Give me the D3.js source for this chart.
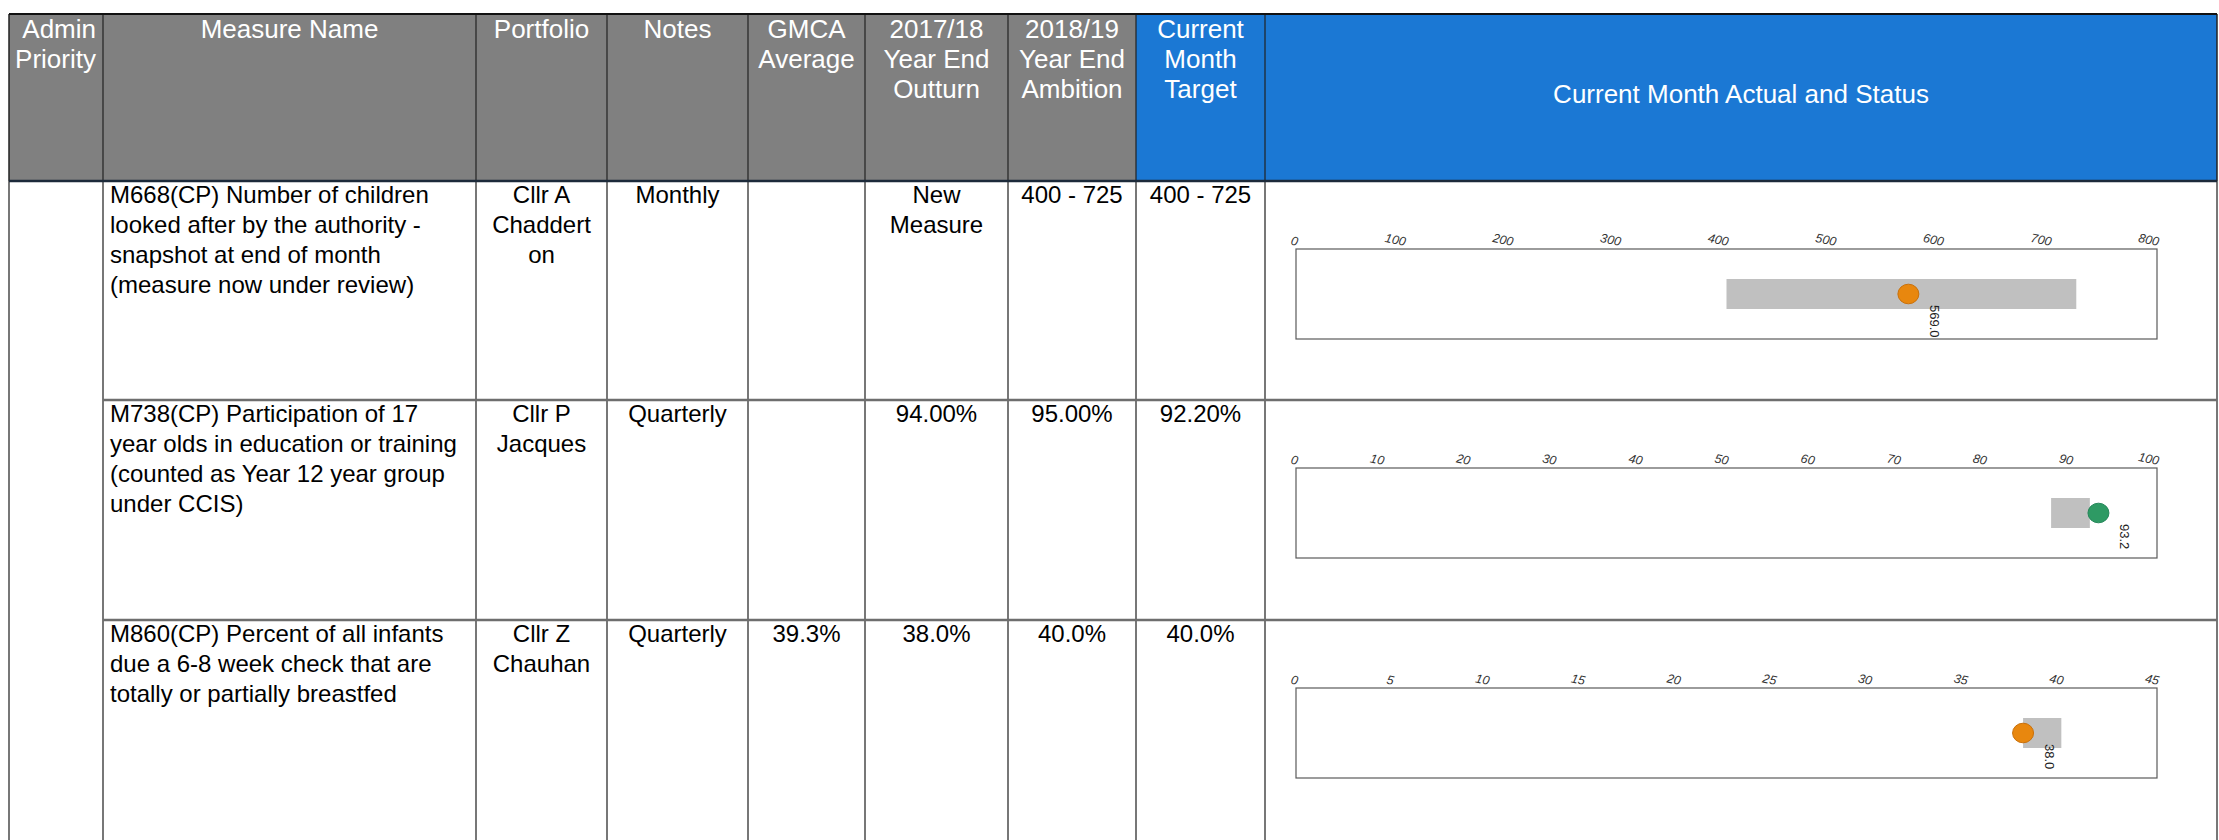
<!DOCTYPE html>
<html>
<head>
<meta charset="utf-8">
<script src="https://cdn.jsdelivr.net/npm/d3@7"></script>
<style>
body { margin: 0; background: #fff; }
svg text { font-family: 'Liberation Sans', Arial, sans-serif; }
</style>
</head>
<body>
<div id="chart"></div>
<script>
'use strict';

// header labels (line breaks as in the report)
const headers = ["Admin\nPriority", "Measure Name", "Portfolio", "Notes", "GMCA\nAverage",
	"2017/18\nYear End\nOutturn", "2018/19\nYear End\nAmbition", "Current\nMonth\nTarget",
	"Current Month Actual and Status"];

const measureNames = [
	"M668(CP) Number of children\nlooked after by the authority -\nsnapshot at end of month\n(measure now under review)",
	"M738(CP) Participation of 17\nyear olds in education or training\n(counted as Year 12 year group\nunder CCIS)",
	"M860(CP) Percent of all infants\ndue a 6-8 week check that are\ntotally or partially breastfed"
];
const portfolios = ["Cllr A\nChaddert\non", "Cllr P\nJacques", "Cllr Z\nChauhan"];
const notes = ["Monthly", "Quarterly", "Quarterly"];
const gmcaAverage = ["", "", "39.3%"];
const outturn1718 = ["New\nMeasure", "94.00%", "38.0%"];
const ambition1819 = ["400 - 725", "95.00%", "40.0%"];
const monthTarget = ["400 - 725", "92.20%", "40.0%"];

// bullet charts
const actualValues = [569.0, 93.2, 38.0];
const targetLow = [400, 87.7, 38];
const targetHigh = [725, 92.2, 40];
const statuses = ["amber", "green", "amber"];
const axisTicks = [
	[0, 100, 200, 300, 400, 500, 600, 700, 800],
	[0, 10, 20, 30, 40, 50, 60, 70, 80, 90, 100],
	[0, 5, 10, 15, 20, 25, 30, 35, 40, 45]
];

const statusColor = { amber: "#e8870e", green: "#2e9a64" };
const statusStroke = { amber: "#c9700a", green: "#25875a" };

const W = 2219, H = 840;
const colX = [9, 103, 476, 607, 748, 865, 1008, 1136, 1265, 2217];
const headTop = 14, headBottom = 181;
const rowY = [181, 400, 620, 860];
const lineH = 30;

const svg = d3.select("#chart").append("svg")
	.attr("width", W)
	.attr("height", H);

// ---- header
const head = svg.append("g").attr("class", "header");
headers.forEach(function(h, i) {
	head.append("rect")
		.attr("x", colX[i]).attr("y", headTop)
		.attr("width", colX[i+1] - colX[i]).attr("height", headBottom - headTop)
		.attr("fill", i >= 7 ? "#1b78d4" : "#808080");

	const lines = h.split("\n");
	const last = i == headers.length - 1;
	const t = head.append("text")
		.attr("fill", "#fff")
		.attr("font-size", 26)
		.attr("text-anchor", i == 0 ? "end" : "middle");
	const tx = i == 0 ? colX[1] - 7 : (colX[i] + colX[i+1]) / 2;
	lines.forEach(function(l, k) {
		t.append("tspan")
			.attr("x", tx)
			.attr("y", last ? 103 : headTop + 24 + k * lineH)
			.text(l);
	});
});

// ---- body text
const body = svg.append("g").attr("class", "body");
const columns = [measureNames, portfolios, notes, gmcaAverage, outturn1718, ambition1819, monthTarget];

columns.forEach(function(col, c) {
	const ci = c + 1;
	col.forEach(function(val, r) {
		if (val == "") return;
		const left = ci == 1;
		const t = body.append("text")
			.attr("fill", "#000")
			.attr("font-size", 24)
			.attr("text-anchor", left ? "start" : "middle");
		val.split("\n").forEach(function(l, k) {
			t.append("tspan")
				.attr("x", left ? colX[ci] + 7 : (colX[ci] + colX[ci+1]) / 2)
				.attr("y", rowY[r] + 22 + k * lineH)
				.text(l);
		});
	});
});

// ---- bullet charts
const boxLeft = 1296, boxRight = 2157, boxOff = 68, boxH = 90;

actualValues.forEach(function(v, r) {
	const top = rowY[r] + boxOff;
	const x = d3.scaleLinear()
		.domain([0, d3.max(axisTicks[r])])
		.range([boxLeft, boxRight]);

	const g = svg.append("g").attr("class", "bullet");

	g.append("rect")
		.attr("x", boxLeft).attr("y", top)
		.attr("width", boxRight - boxLeft).attr("height", boxH)
		.attr("fill", "#fff")
		.attr("stroke", "#5a5a5a")
		.attr("stroke-width", 1.2);

	g.append("rect")
		.attr("x", x(targetLow[r]))
		.attr("y", top + boxH / 3)
		.attr("width", x(targetHigh[r]) - x(targetLow[r]))
		.attr("height", boxH / 3)
		.attr("fill", "#c0c0c0");

	g.append("ellipse")
		.attr("cx", x(v)).attr("cy", top + boxH / 2)
		.attr("rx", 10.5).attr("ry", 9.8)
		.attr("fill", statusColor[statuses[r]])
		.attr("stroke", statusStroke[statuses[r]])
		.attr("stroke-width", 1);

	g.append("text")
		.attr("transform", `translate(${x(v) + 21.5},${top + boxH / 2 + 11}) rotate(90)`)
		.attr("font-size", 13)
		.attr("fill", "#222")
		.text(d3.format(".1f")(v));

	const axis = g.append("g")
		.attr("transform", `translate(0,${top})`)
		.call(d3.axisTop(x).tickValues(axisTicks[r]).tickSize(0).tickFormat(d3.format("d")));
	axis.select(".domain").remove();
	axis.selectAll("text")
		.attr("x", 0).attr("y", -3).attr("dy", 0)
		.attr("text-anchor", "end")
		.attr("transform", "rotate(12)")
		.attr("font-style", "italic")
		.attr("font-size", 12.5)
		.attr("font-family", "'Liberation Sans', Arial, sans-serif")
		.attr("fill", "#333");
});

// ---- grid lines
const grid = svg.append("g").attr("class", "grid");

// vertical lines in header
colX.forEach(function(cx, i) {
	grid.append("line")
		.attr("x1", cx).attr("x2", cx)
		.attr("y1", headTop).attr("y2", headBottom)
		.attr("stroke", "#222").attr("stroke-width", i == 0 || i == colX.length - 1 ? 1.5 : 1.2);
});
// vertical lines in body
colX.forEach(function(cx, i) {
	grid.append("line")
		.attr("x1", cx).attr("x2", cx)
		.attr("y1", headBottom).attr("y2", H)
		.attr("stroke", "#4a4a4a").attr("stroke-width", 1.5);
});
// top and header bottom
grid.append("line")
	.attr("x1", colX[0]).attr("x2", colX[colX.length-1])
	.attr("y1", headTop).attr("y2", headTop)
	.attr("stroke", "#111").attr("stroke-width", 2);
grid.append("line")
	.attr("x1", colX[0]).attr("x2", colX[colX.length-1])
	.attr("y1", headBottom).attr("y2", headBottom)
	.attr("stroke", "#1c2a3a").attr("stroke-width", 2.5);
// row separators (admin priority column is merged)
rowY.slice(1, 3).forEach(function(y) {
	grid.append("line")
		.attr("x1", colX[1]).attr("x2", colX[colX.length-1])
		.attr("y1", y).attr("y2", y)
		.attr("stroke", "#6e6e6e").attr("stroke-width", 2.5);
});
</script>
</body>
</html>
